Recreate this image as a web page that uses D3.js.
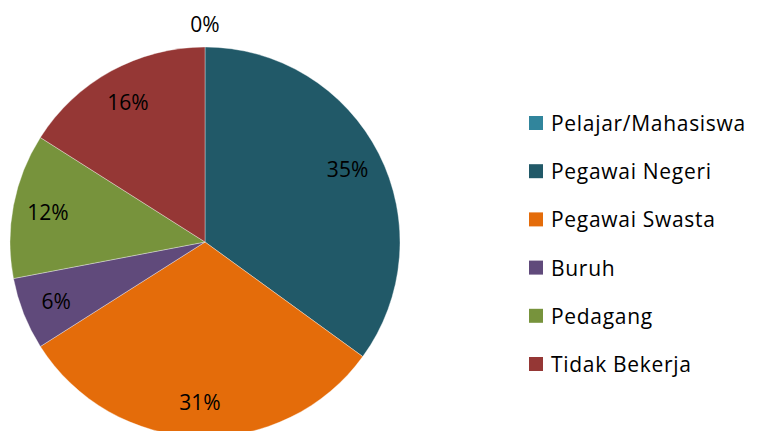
<!DOCTYPE html>
<html>
<head>
<meta charset="utf-8">
<script src="https://cdn.jsdelivr.net/npm/d3@7"></script>
<style>
  body { margin: 0; background: #fff; }
  svg { display: block; }
</style>
</head>
<body>
<script>
// DATA
const categories = ['Pelajar/Mahasiswa', 'Pegawai Negeri', 'Pegawai Swasta', 'Buruh', 'Pedagang', 'Tidak Bekerja'];
const values = [0, 35, 31, 6, 12, 16];
const colors = ['#31859C', '#215968', '#E46C0A', '#604A7B', '#77933C', '#953735'];

// DEFS
const width = 757, height = 431;
const cx = 205, cy = 242, radius = 195;
const labelRadius = 160;
const font = '21px "Open Sans", "Liberation Sans", sans-serif';

const svg = d3.select('body').append('svg').attr('width', width).attr('height', height);

const data = categories.map((c, i) => ({category: c, value: values[i], color: colors[i]}));
const total = d3.sum(values);
const pct = d => d3.format('.0%')(d.data.value / total);

// GENERATORS
const pie = d3.pie().value(d => d.value).sort(null);
const arcs = pie(data);
const arcPath = d3.arc().innerRadius(0).outerRadius(radius);
const labelArc = d3.arc().innerRadius(labelRadius).outerRadius(labelRadius);

const pieGroup = svg.append('g').attr('transform', `translate(${cx}, ${cy})`);

pieGroup.selectAll('path')
  .data(arcs)
  .enter().append('path')
    .attr('d', arcPath)
    .attr('fill', d => d.data.color)
    .attr('stroke', '#ffffff')
    .attr('stroke-opacity', 0.35)
    .attr('stroke-width', 1);

// LABELS (zero slice sits outside the pie, above the top)
pieGroup.selectAll('.lbl')
  .data(arcs)
  .enter().append('text')
    .attr('class', 'lbl')
    .attr('transform', d => {
      if (d.data.value === 0) return `translate(0, ${-radius - 23})`;
      const [x, y] = labelArc.centroid(d);
      return `translate(${x}, ${y})`;
    })
    .attr('text-anchor', 'middle')
    .attr('dominant-baseline', 'central')
    .style('font', font)
    .attr('fill', '#000')
    .text(pct);

// LEGEND
const legendY = d3.scalePoint().domain(categories).range([123, 364]);
const legend = svg.append('g').attr('class', 'legend');
const rows = legend.selectAll('g')
  .data(data)
  .enter().append('g')
    .attr('transform', d => `translate(529, ${legendY(d.category)})`);

rows.append('rect')
  .attr('x', 0).attr('y', -7)
  .attr('width', 14).attr('height', 14)
  .attr('fill', d => d.color);

rows.append('text')
  .attr('x', 22)
  .attr('dominant-baseline', 'central')
  .style('font', font)
  .style('letter-spacing', '0.7px')
  .attr('fill', '#000')
  .text(d => d.category);
</script>
</body>
</html>
